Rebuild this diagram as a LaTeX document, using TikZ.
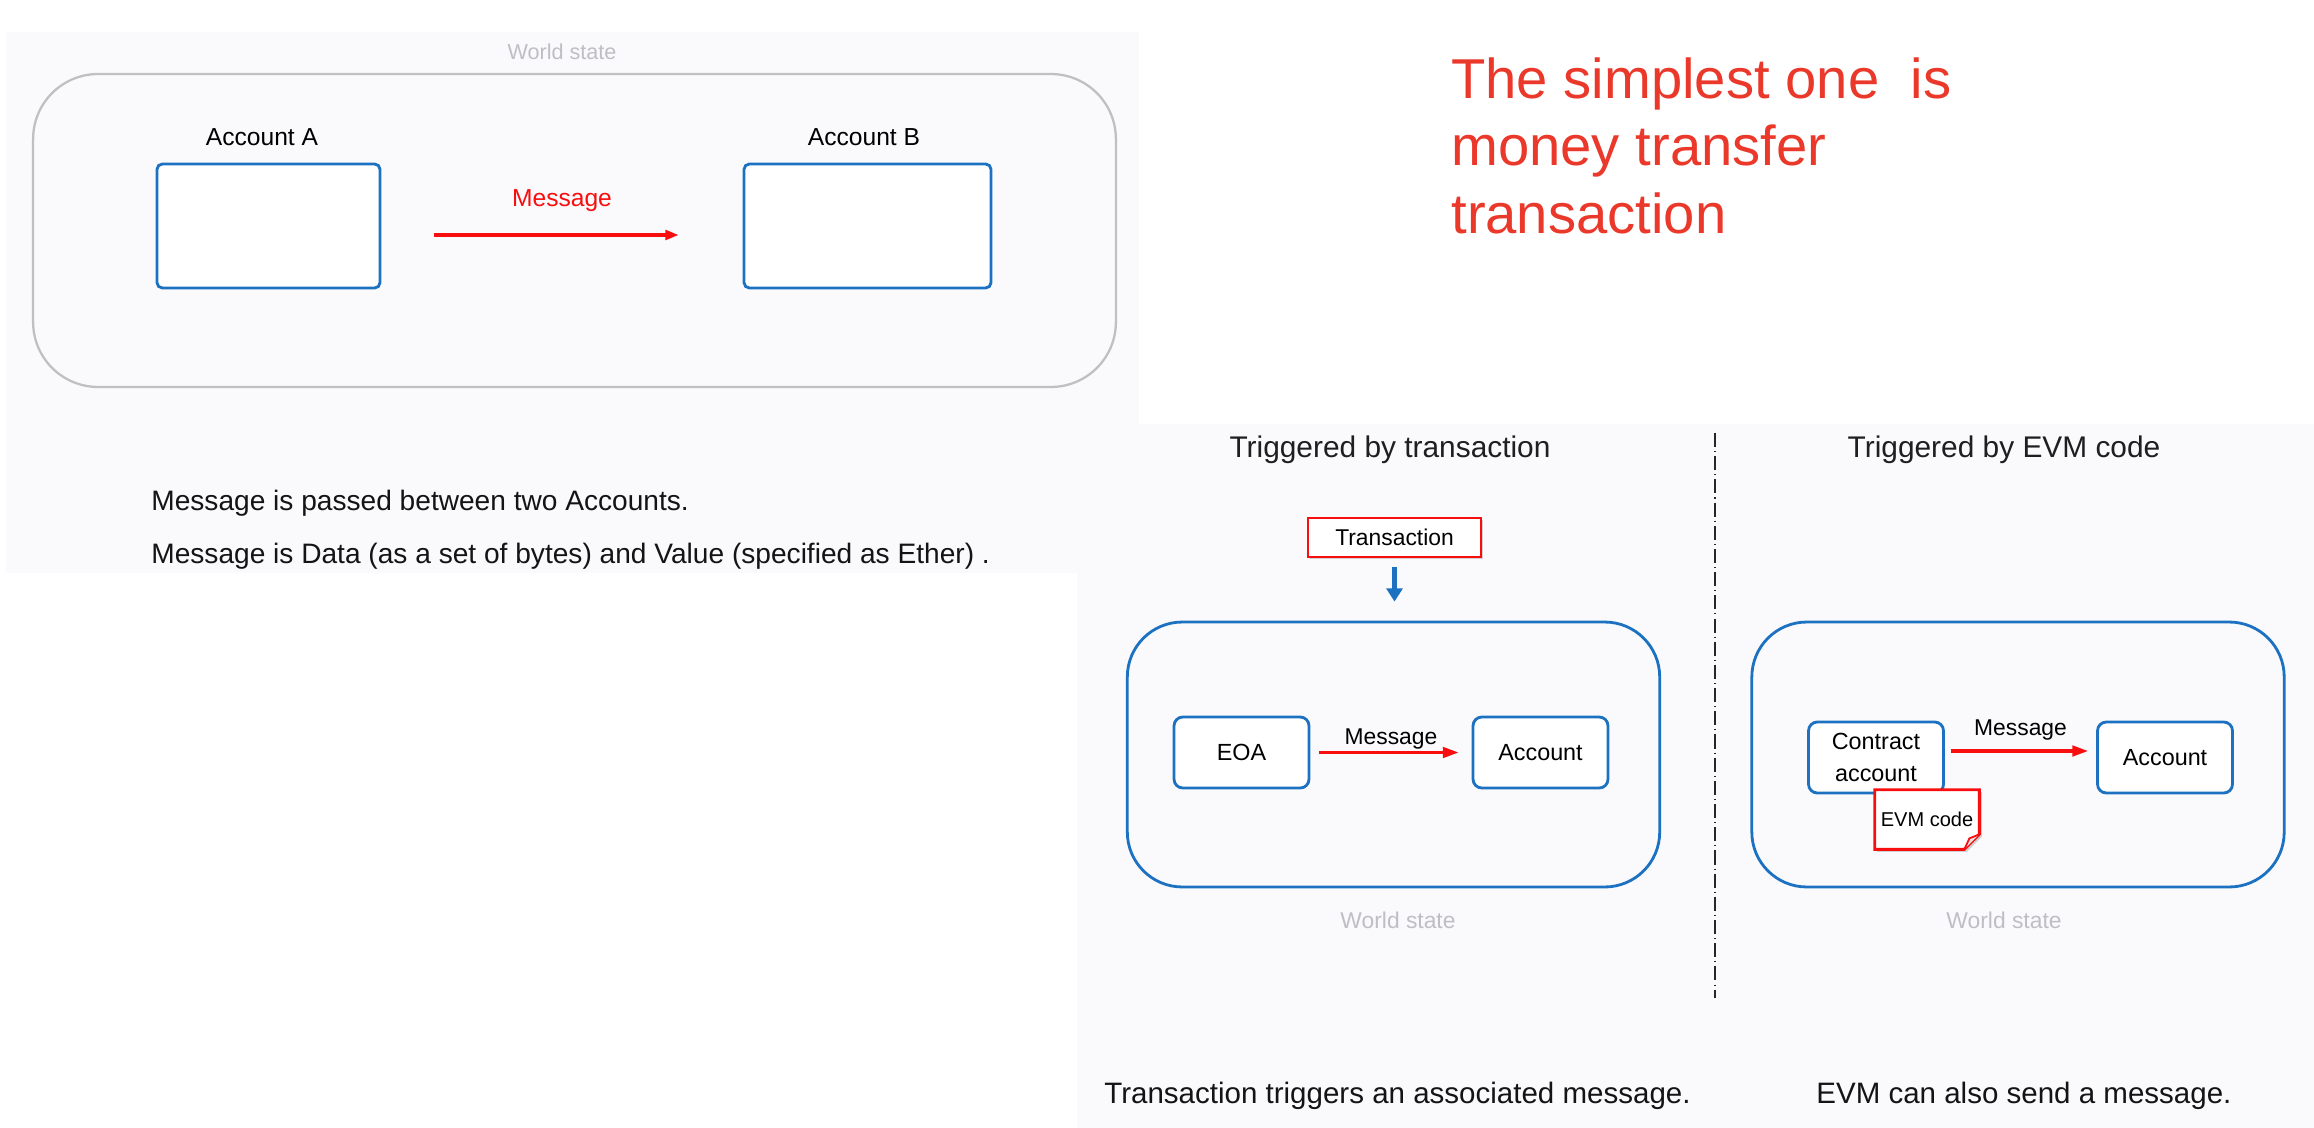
\documentclass[tikz,border=0pt]{standalone}
\usepackage{fontspec}
\setmainfont{Liberation Sans}
\usepackage{tikz}
\usetikzlibrary{arrows.meta,shadows}
\definecolor{ethblue}{RGB}{28,114,192}
\definecolor{msgred}{RGB}{248,14,14}
\definecolor{titlered}{RGB}{234,56,42}
\definecolor{framegray}{RGB}{192,192,192}
\definecolor{wsgray}{RGB}{190,190,196}
\definecolor{foldgray}{RGB}{225,225,228}
\definecolor{panelbg}{RGB}{250,250,253}

\begin{document}
\begin{tikzpicture}[x=0.02cm,y=-0.02cm,
				bigacct/.style={draw=ethblue,line width=1.6pt,fill=white,rounded corners=3pt,minimum height=2.48cm},
				acct/.style={draw=ethblue,line width=1.6pt,fill=white,rounded corners=5pt,minimum width=2.7cm,minimum height=1.42cm,font=\fontsize{13.3}{18}\selectfont},
				cont/.style={draw=ethblue,line width=1.6pt,rounded corners=1.1cm,minimum width=10.65cm,minimum height=5.3cm},
				wstate/.style={text=wsgray,font=\fontsize{13}{15}\selectfont},
				sect/.style={text=black!88,font=\fontsize{17}{20}\selectfont},
				body/.style={anchor=base west,text=black!92,inner sep=0pt},
				msgarr/.style={msgred,line width=1.8pt,-{Triangle[length=7.5pt,width=5.5pt]}},
				msgarr2/.style={msgred,line width=1.8pt,-{Triangle[length=9pt,width=6pt]}},
				trig/.style={ethblue,line width=3pt,-{Triangle[length=7.5pt,width=9pt]}},
				txbox/.style={draw=msgred,line width=1.6pt,fill=white,minimum width=3.46cm,minimum height=0.78cm,
					font=\fontsize{13}{15}\selectfont,drop shadow={shadow xshift=1.4pt,shadow yshift=-1.4pt,opacity=.35}},
				note/.style={draw=msgred,line width=1.6pt,fill=white,drop shadow={shadow xshift=1.4pt,shadow yshift=-1.4pt,opacity=.35}}]
				\useasboundingbox (0,0) rectangle (2314,1128);
				\fill[panelbg] (6,32) rectangle (1139,573);
				\fill[panelbg] (1077,424) rectangle (2314,1128);
				
				\node[wstate,font=\fontsize{12.3}{14}\selectfont] (ws0) at (562,52){World state};
				\node[draw=framegray,line width=1.3pt,rounded corners=1.3cm,minimum width=21.66cm,minimum height=6.26cm] (world0) at (574.5,230.5){};
				\node[font=\fontsize{14}{16}\selectfont] (la) at (262,137){Account A};
				\node[font=\fontsize{14}{16}\selectfont] (lb) at (864,137){Account B};
				\node[bigacct,minimum width=4.46cm] (acca) at (268.5,226){};
				\node[bigacct,minimum width=4.94cm] (accb) at (867.5,226){};
				\draw[msgarr,shorten <=1.06cm,shorten >=1.28cm]([yshift=-0.18cm]acca.east)--([yshift=-0.18cm]accb.west)
				node[midway,above=0.32cm,text=msgred,font=\fontsize{14}{16}\selectfont]{Message};
				
				\node[body,font=\fontsize{16}{19}\selectfont] (t1) at (151,510){Message is passed between two Accounts.};
				\node[body,font=\fontsize{16}{19}\selectfont] (t2) at (151,563){Message is Data (as a set of bytes) and Value (specified as Ether) .};
				
				\node[anchor=north west,inner sep=0pt,align=left,text=titlered,font=\fontsize{32}{38.4}\selectfont] (head) at (1451,57)
				{The simplest one\ \ is\\money transfer\\transaction};
				
				\node[sect] (h1) at (1390,450){Triggered by transaction};
				\node[sect] (h2) at (2004,450){Triggered by EVM code};
				\draw[black!85,line width=0.8pt,dash pattern=on 8pt off 2.3pt on 0.6pt off 2.3pt] (1715,433)--(1715,998);
				
				\node[txbox] (tx) at (1394.5,537.5){Transaction};
				\node[cont] (cont1) at (1393.5,754.5){};
				\draw[trig,shorten <=0.18cm,shorten >=0.38cm](tx.south)--(tx.south |- cont1.north);
				\node[acct] (eoa) at (1241.5,752.5){EOA};
				\node[acct] (acc1) at (1540.5,752.5){Account};
				\draw[msgarr2,shorten <=0.18cm,shorten >=0.26cm](eoa)--(acc1)
				node[midway,above,inner sep=1pt,text=black,font=\fontsize{13}{15}\selectfont]{Message};
				\node[wstate] (ws1) at (1398,920){World state};
				
				\node[cont] (cont2) at (2018,754.5){};
				\node[acct,align=center] (ca) at (1876,757.5){Contract\\account};
				\node[acct] (acc2) at (2165,757.5){Account};
				\draw[msgarr2,shorten <=0.12cm,shorten >=0.16cm]([yshift=0.13cm]ca.east)--([yshift=0.13cm]acc2.west)
				node[midway,above=0.14cm,inner sep=1pt,text=black,font=\fontsize{13}{15}\selectfont]{Message};
				\node[minimum width=2.08cm,minimum height=1.18cm,inner sep=0pt] (evm) at (1927,819.5){};
				\filldraw[note](evm.north west)--(evm.north east)--([yshift=0.3cm]evm.south east)
				--([xshift=-0.3cm]evm.south east)--(evm.south west)--cycle;
				\filldraw[draw=msgred,line width=1pt,fill=foldgray]([yshift=0.3cm]evm.south east)
				--([xshift=-0.2cm,yshift=0.22cm]evm.south east)--([xshift=-0.3cm]evm.south east);
				\node[font=\fontsize{11.4}{13}\selectfont] (evmtxt) at (evm){EVM code};
				\node[wstate] (ws2) at (2004,920){World state};
				
				\node[body,font=\fontsize{16.8}{19}\selectfont] (t3) at (1104,1103){Transaction triggers an associated message.};
				\node[body,font=\fontsize{16.8}{19}\selectfont] (t4) at (1816,1103){EVM can also send a message.};
			\end{tikzpicture}
\end{document}
